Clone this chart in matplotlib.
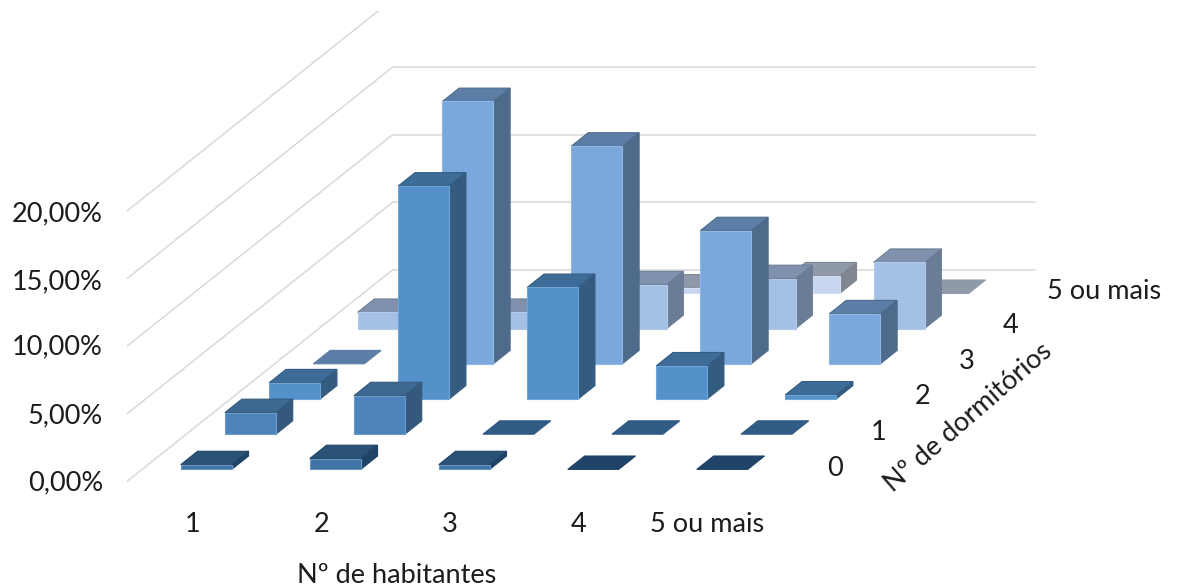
import matplotlib
matplotlib.use("Agg")
import matplotlib.pyplot as plt
from matplotlib.patches import Polygon

plt.rcParams['font.family'] = ['Lato', 'DejaVu Sans']

habitantes = ['1', '2', '3', '4', '5 ou mais']
dormitorios = ['0', '1', '2', '3', '4', '5 ou mais']
y_ticks = [0, 5, 10, 15, 20]

# % values per row (n. of bedrooms), one value per n. of inhabitants
dorm_0 = [0.35, 0.8, 0.35, 0.0, 0.0]
dorm_1 = [1.6, 2.85, 0.0, 0.0, 0.0]
dorm_2 = [1.2, 15.75, 8.25, 2.45, 0.3]
dorm_3 = [0.0, 19.4, 16.1, 9.85, 3.7]
dorm_4 = [1.2, 1.2, 3.25, 3.7, 4.9]
dorm_5 = [0.0, 0.0, 0.4, 1.3, 0.0]
rows = [dorm_0, dorm_1, dorm_2, dorm_3, dorm_4, dorm_5]

# front, top, side, edge, flat slab
row_colors = [
    ('#3f73a6', '#2a5277', '#1f4466', '#6a97c4', '#1f4468'),
    ('#4d84bb', '#3c6891', '#34597c', '#6d9ccb', '#2f5b84'),
    ('#5491cb', '#3e6c98', '#345b80', '#6fa4d6', '#3e6c98'),
    ('#7ba8dc', '#5c7ea6', '#4e6b8b', '#8fb8e6', '#5c7ea6'),
    ('#a4c0e5', '#7f91ad', '#6b7d95', '#b3cbea', '#7f91ad'),
    ('#c6d7ef', '#9099aa', '#7f8791', '#d3e0f3', '#9099aa'),
]

X0, Y0 = 127.5, 481
COL_W = 129
DEPTH_X, DEPTH_Y = 44.2, 35.2
PX_PER_PCT = 13.52


def project(col, depth, value=0):
    return (X0 + COL_W * col + DEPTH_X * depth,
            Y0 - DEPTH_Y * depth - PX_PER_PCT * value)


def draw_bar(ax, i, j, value, colors):
    front, top, side, edge, flat = colors
    c0, c1 = i + 0.3, i + 0.695
    d0, d1 = j + 0.33, j + 0.71
    top_pts = [project(c0, d0, value), project(c1, d0, value),
               project(c1, d1, value), project(c0, d1, value)]
    if value > 0:
        side_pts = [project(c1, d0, 0), project(c1, d1, 0),
                    project(c1, d1, value), project(c1, d0, value)]
        front_pts = [project(c0, d0, 0), project(c1, d0, 0),
                     project(c1, d0, value), project(c0, d0, value)]
        ax.add_patch(Polygon(side_pts, fc=side, ec=side, lw=0.8, zorder=3))
        ax.add_patch(Polygon(top_pts, fc=top, ec=side, lw=0.8, zorder=3))
        ax.add_patch(Polygon(front_pts, fc=front, ec=edge, lw=0.8, zorder=3))
    else:
        ax.add_patch(Polygon(top_pts, fc=flat, ec=flat, lw=0.8, zorder=3))


fig = plt.figure(figsize=(11.81, 5.88), dpi=100)
ax = fig.add_axes([0, 0, 1, 1])
ax.set_xlim(0, 1181)
ax.set_ylim(588, 0)
ax.axis('off')

# walls
grid_color = '#d9d9d9'
for v in y_ticks:
    depth_end = 5.66 if v == 20 else 6
    p0 = project(0, 0, v)
    p1 = project(0, depth_end, v)
    ax.plot([p0[0], p1[0]], [p0[1], p1[1]], color=grid_color, lw=1.1, zorder=1)
    if v < 20:
        p2 = project(4.98, 6, v)
        ax.plot([p1[0], p2[0]], [p1[1], p2[1]], color=grid_color, lw=1.1, zorder=1)

# back rows first so the front ones cover them
for j in range(len(rows) - 1, -1, -1):
    for i, value in enumerate(rows[j]):
        draw_bar(ax, i, j, value, row_colors[j])

text_color = '#1c1c1c'
fs = 19.5
y_label_pos = [480, 413, 344, 279, 211]
for v, y in zip(y_ticks, y_label_pos):
    ax.text(103, y, f'{v},00%', ha='right', va='center_baseline', fontsize=fs, color=text_color)

for name, x in zip(habitantes, [193, 322, 450, 579, 707]):
    ax.text(x, 522, name, ha='center', va='center_baseline', fontsize=fs, color=text_color)

for name, x, y in zip(dormitorios[:5], [835, 879, 923, 967, 1011], [466, 430, 394, 359, 323]):
    ax.text(x, y, name, ha='center', va='center_baseline', fontsize=fs, color=text_color)
ax.text(1047, 289, dormitorios[5], ha='left', va='center_baseline', fontsize=fs, color=text_color)

ax.text(397, 573, 'Nº de habitantes', ha='center', va='center_baseline', fontsize=fs, color=text_color)
ax.text(968, 418, 'Nº de dormitórios', ha='center', va='center', rotation=41,
        rotation_mode='anchor', fontsize=fs, color=text_color)

fig.savefig('out.png', dpi=100)
